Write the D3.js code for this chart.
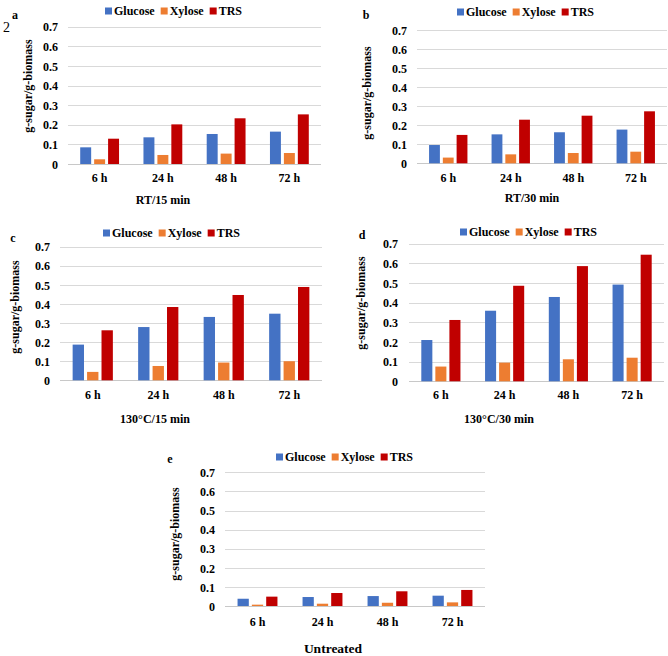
<!DOCTYPE html>
<html><head><meta charset="utf-8">
<script src="https://cdn.jsdelivr.net/npm/d3@7"></script>
<style>
body{margin:0;background:#fff}
svg{display:block}
text{font-family:"Liberation Serif","Times New Roman",serif;font-weight:bold;fill:#000}
</style>
</head><body>
<svg id="chart" width="668" height="656"></svg>
<script>
// ---------- data ----------
const categories = ["6 h", "24 h", "48 h", "72 h"];
const seriesNames = ["Glucose", "Xylose", "TRS"];
const yTickValues = [0, 0.1, 0.2, 0.3, 0.4, 0.5, 0.6, 0.7];
const yTickLabels = ["0", "0.1", "0.2", "0.3", "0.4", "0.5", "0.6", "0.7"];

const glucoseA = [0.085, 0.136, 0.153, 0.165];
const xyloseA  = [0.024, 0.046, 0.053, 0.056];
const trsA     = [0.129, 0.202, 0.233, 0.253];

const glucoseB = [0.096, 0.152, 0.163, 0.177];
const xyloseB  = [0.030, 0.047, 0.054, 0.061];
const trsB     = [0.149, 0.229, 0.250, 0.273];

const glucoseC = [0.187, 0.279, 0.332, 0.349];
const xyloseC  = [0.044, 0.075, 0.093, 0.100];
const trsC     = [0.262, 0.384, 0.447, 0.489];

const glucoseD = [0.210, 0.359, 0.429, 0.492];
const xyloseD  = [0.075, 0.095, 0.112, 0.120];
const trsD     = [0.312, 0.486, 0.586, 0.644];

const glucoseE = [0.038, 0.047, 0.052, 0.054];
const xyloseE  = [0.007, 0.012, 0.017, 0.019];
const trsE     = [0.049, 0.068, 0.077, 0.084];

const panelLetters = ["a", "b", "c", "d", "e"];
const panelTitles = ["RT/15 min", "RT/30 min", "130°C/15 min", "130°C/30 min", "Untreated"];
const yAxisTitle = "g-sugar/g-biomass";

// ---------- styles / layout ----------
const colors = ["#4472C4", "#ED7D31", "#C00000"];
const layouts = [
  {x0:68,  x1:321, yTop:26.7,  yBot:164,   tickX:58,  ytX:28,  ytY:86,  letter:[15,15],  legX:105, legY:11,  catY:178, titX:163, titY:200, titSize:12},
  {x0:417, x1:667, yTop:30,    yBot:163.3, tickX:407, ytX:367, ytY:93,  letter:[366,15], legX:457, legY:12,  catY:178, titX:532, titY:198, titSize:12},
  {x0:60,  x1:322, yTop:246.7, yBot:380.3, tickX:50,  ytX:15,  ytY:307, letter:[13,238], legX:103, legY:233, catY:395, titX:155, titY:419, titSize:12},
  {x0:409, x1:664, yTop:243.7, yBot:381.3, tickX:398, ytX:361, ytY:303, letter:[362,235],legX:460, legY:232, catY:395, titX:499, titY:419, titSize:12},
  {x0:225, x1:485, yTop:472.3, yBot:606,   tickX:215, ytX:175, ytY:534, letter:[170,459],legX:276, legY:457, catY:622, titX:333, titY:648, titSize:13.5}
];
const panelData = [
  [glucoseA, xyloseA, trsA],
  [glucoseB, xyloseB, trsB],
  [glucoseC, xyloseC, trsC],
  [glucoseD, xyloseD, trsD],
  [glucoseE, xyloseE, trsE]
];

const svg = d3.select("#chart");

// stray "2" near panel a
svg.append("text").attr("x", 3).attr("y", 32).style("font-weight", "normal")
  .style("font-size", "14px").text("2");

panelData.forEach((series, pi) => {
  const L = layouts[pi];
  const g = svg.append("g");

  const y = d3.scaleLinear().domain([0, 0.7]).range([L.yBot, L.yTop]);
  const x = d3.scaleBand().domain(categories).range([L.x0, L.x1]).padding(0);
  const bw = x.bandwidth();
  const xs = d3.scaleBand().domain(seriesNames)
    .range([bw * 0.193, bw * 0.807]).paddingInner(0.214).paddingOuter(0);

  // gridlines
  const yAxis = d3.axisLeft(y).tickValues(yTickValues)
    .tickFormat((d, i) => yTickLabels[i]).tickSize(0).tickPadding(0);
  const grid = g.append("g");
  grid.selectAll("line").data(yTickValues).join("line")
    .attr("x1", L.x0).attr("x2", L.x1)
    .attr("y1", d => Math.round(y(d)) + 0.5).attr("y2", d => Math.round(y(d)) + 0.5)
    .attr("stroke", d => d === 0 ? "#c8c8c8" : "#d9d9d9").attr("stroke-width", 1);

  // y tick labels
  const ya = g.append("g").attr("transform", `translate(${L.tickX},0)`).call(yAxis);
  ya.select(".domain").remove();
  ya.selectAll("text").attr("x", 0).attr("dy", "0.35em")
    .style("font-size", "12px").style("font-family", '"Liberation Serif",serif')
    .style("font-weight", "bold").attr("fill", "#000");

  // bars
  categories.forEach((c, ci) => {
    seriesNames.forEach((s, si) => {
      const v = series[si][ci];
      g.append("rect")
        .attr("x", x(c) + xs(s))
        .attr("y", y(v))
        .attr("width", xs.bandwidth())
        .attr("height", y(0) - y(v))
        .attr("fill", colors[si]);
    });
  });

  // category labels
  const xa = d3.axisBottom(x).tickSize(0).tickPadding(0);
  const xg = g.append("g").attr("transform", `translate(0,${L.catY})`).call(xa);
  xg.select(".domain").remove();
  xg.selectAll("text").attr("y", 0).attr("dy", "0.35em")
    .style("font-size", "12px").style("font-family", '"Liberation Serif",serif')
    .style("font-weight", "bold").attr("fill", "#000");

  // x title
  g.append("text").attr("x", L.titX).attr("y", L.titY).attr("dy", "0.35em")
    .attr("text-anchor", "middle").style("font-size", L.titSize + "px")
    .text(panelTitles[pi]);

  // y title
  g.append("text").attr("transform", `translate(${L.ytX},${L.ytY}) rotate(-90)`)
    .attr("dy", "0.35em").attr("text-anchor", "middle").style("font-size", "12px")
    .text(yAxisTitle);

  // panel letter
  g.append("text").attr("x", L.letter[0]).attr("y", L.letter[1]).attr("dy", "0.35em")
    .attr("text-anchor", "middle").style("font-size", "12px").text(panelLetters[pi]);

  // legend
  let lx = L.legX;
  seriesNames.forEach((s, si) => {
    g.append("rect").attr("x", lx).attr("y", L.legY - 3.5).attr("width", 7).attr("height", 7)
      .attr("fill", colors[si]);
    const t = g.append("text").attr("x", lx + 9).attr("y", L.legY).attr("dy", "0.35em")
      .style("font-size", "12px").text(s);
    lx += 9 + t.node().getComputedTextLength() + 6;
  });
});
</script>
</body></html>
